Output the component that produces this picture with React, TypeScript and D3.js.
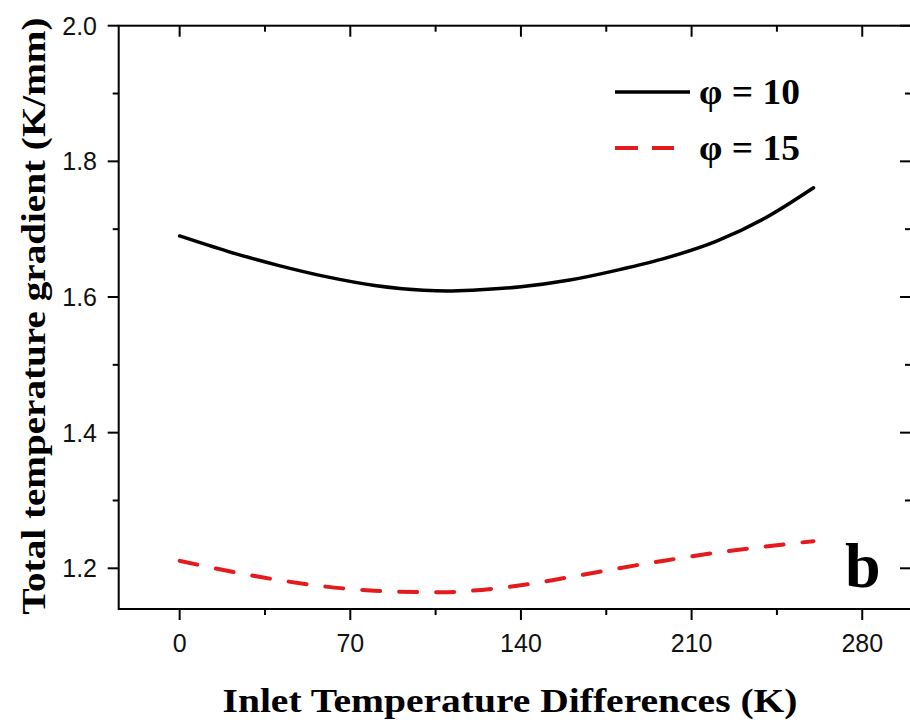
import React from "react";
import * as d3 from "d3";

const xValues = [0, 20, 40, 60, 80, 100, 110, 120, 140, 160, 180, 200, 220, 240, 260];
const phi10 = [1.690, 1.667, 1.647, 1.630, 1.617, 1.610, 1.609, 1.610, 1.615, 1.625, 1.640, 1.658, 1.682, 1.716, 1.761];
const phi15 = [1.211, 1.196, 1.183, 1.173, 1.167, 1.165, 1.1648, 1.167, 1.175, 1.187, 1.200, 1.212, 1.223, 1.232, 1.240];
const xMajorTicks = [0, 70, 140, 210, 280];
const xMinorTicks = [35, 105, 175, 245];
const yMajorTicks = [1.2, 1.4, 1.6, 1.8, 2.0];
const yMinorTicks = [1.3, 1.5, 1.7, 1.9];
const seriesNames = ["φ = 10", "φ = 15"];

const W = 910, H = 725;
const left = 118.7, right = 911, top = 25.7, bottom = 609;
const x = d3.scaleLinear().domain([-25, 300]).range([left, right]);
const y = d3.scaleLinear().domain([1.14, 2.0]).range([bottom, top]);

const serif = "'Liberation Serif', 'Times New Roman', serif";
const sans = "'Liberation Sans', Arial, sans-serif";
const red = "#e41a1c";

export default function App() {
  const line = d3
    .line<[number, number]>()
    .x((d) => x(d[0]))
    .y((d) => y(d[1]))
    .curve(d3.curveMonotoneX);
  const d10 = line(xValues.map((v, i) => [v, phi10[i]]) as [number, number][]) || "";
  const d15 = line(xValues.map((v, i) => [v, phi15[i]]) as [number, number][]) || "";
  const major = 11, minor = 6;
  return (
    <svg width={W} height={H} style={{ position: "absolute", left: 0, top: 0, background: "#fff" }}>
      <rect x={left} y={top} width={right - left} height={bottom - top} fill="none" stroke="#000" strokeWidth={2} />
      {xMajorTicks.map((t) => (
        <g key={"xb" + t}>
          <line x1={x(t)} x2={x(t)} y1={bottom} y2={bottom + major} stroke="#000" strokeWidth={2} />
          <line x1={x(t)} x2={x(t)} y1={top} y2={top + major} stroke="#000" strokeWidth={2} />
          <text x={x(t)} y={652} textAnchor="middle" fontFamily={sans} fontSize={25} fill="#111">
            {t}
          </text>
        </g>
      ))}
      {xMinorTicks.map((t) => (
        <g key={"xm" + t}>
          <line x1={x(t)} x2={x(t)} y1={bottom} y2={bottom + minor} stroke="#000" strokeWidth={2} />
          <line x1={x(t)} x2={x(t)} y1={top} y2={top + minor} stroke="#000" strokeWidth={2} />
        </g>
      ))}
      {yMajorTicks.map((t) => (
        <g key={"ym" + t}>
          <line x1={left - major} x2={left} y1={y(t)} y2={y(t)} stroke="#000" strokeWidth={2} />
          <line x1={right - major} x2={right} y1={y(t)} y2={y(t)} stroke="#000" strokeWidth={2} />
          <text x={97} y={y(t) + 9} textAnchor="end" fontFamily={sans} fontSize={25} fill="#111">
            {t.toFixed(1)}
          </text>
        </g>
      ))}
      {yMinorTicks.map((t) => (
        <g key={"yn" + t}>
          <line x1={left - minor} x2={left} y1={y(t)} y2={y(t)} stroke="#000" strokeWidth={2} />
          <line x1={right - minor} x2={right} y1={y(t)} y2={y(t)} stroke="#000" strokeWidth={2} />
        </g>
      ))}
      <path d={d10} fill="none" stroke="#000" strokeWidth={3.5} strokeLinecap="round" />
      <path d={d15} fill="none" stroke={red} strokeWidth={4} strokeDasharray="18 19" strokeLinecap="round" />
      <line x1={615} x2={690} y1={92} y2={92} stroke="#000" strokeWidth={3.5} />
      <text x={699} y={104} fontFamily={serif} fontWeight="bold" fontSize={35} fill="#000" textLength={101} lengthAdjust="spacingAndGlyphs">
        {seriesNames[0]}
      </text>
      <line x1={615} x2={674} y1={148} y2={148} stroke={red} strokeWidth={4} strokeDasharray="23 14" />
      <text x={699} y={160} fontFamily={serif} fontWeight="bold" fontSize={35} fill="#000" textLength={101} lengthAdjust="spacingAndGlyphs">
        {seriesNames[1]}
      </text>
      <text x={845} y={587} fontFamily={serif} fontWeight="bold" fontSize={64} fill="#000">
        b
      </text>
      <text x={510} y={712} textAnchor="middle" fontFamily={serif} fontWeight="bold" fontSize={34} fill="#000" textLength={575} lengthAdjust="spacingAndGlyphs">
        Inlet Temperature Differences (K)
      </text>
      <text
        transform={`translate(45, 316) rotate(-90)`}
        textAnchor="middle"
        fontFamily={serif}
        fontWeight="bold"
        fontSize={34}
        fill="#000"
        textLength={597}
        lengthAdjust="spacingAndGlyphs"
      >
        Total temperature gradient (K/mm)
      </text>
    </svg>
  );
}
